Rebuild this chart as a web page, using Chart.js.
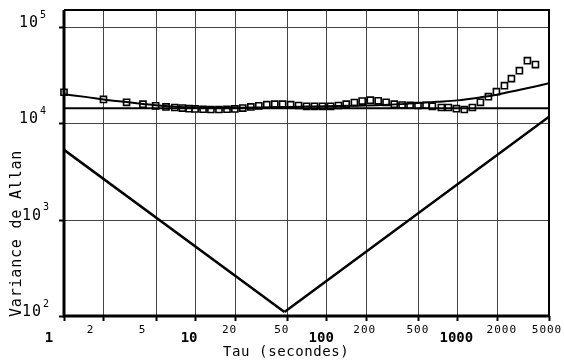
<!DOCTYPE html>
<html>
<head>
<meta charset="utf-8">
<script src="https://cdn.jsdelivr.net/npm/chart.js@4.4.1/dist/chart.umd.min.js"></script>
<style>
  html, body { margin: 0; padding: 0; background: #fff; }
  #wrap { width: 564px; height: 360px; }
</style>
</head>
<body>
<div id="wrap"><canvas id="allan" width="564" height="360"></canvas></div>
<script>
// measured points (open squares)
const tauPts = [1, 2, 3, 4, 5, 6, 7, 8, 9, 10, 11.5, 13.2, 15.2, 17.5, 20.1, 23.1, 26.6, 30.6, 35.2, 40.5,
    46.5, 53.5, 61.5, 70.8, 81.4, 93.6, 108, 124, 142, 164, 188, 217, 249, 286, 330, 379, 436, 501, 577, 645,
    755, 854, 983, 1130, 1302, 1499, 1725, 1986, 2286, 2584, 2973, 3423, 3940];
const varPts = [21000, 17700, 16500, 15800, 15200, 14800, 14600, 14400, 14200, 14100, 14000, 13900, 13900, 14000, 14100, 14400, 14800, 15200, 15600, 15800,
    15800, 15600, 15300, 15000, 15000, 15000, 15000, 15300, 15800, 16400, 17000, 17400, 17100, 16500, 15800, 15500, 15400, 15300, 15400, 15000,
    14600, 14600, 14200, 13900, 14600, 16500, 18900, 21300, 24600, 29100, 35200, 44700, 40700];

// fitted curve
const tauFit = [1, 1.5, 2, 3, 4, 5, 7, 10, 15, 20, 30, 50, 70, 100, 150, 200, 300, 500, 700, 1000, 1500, 2000, 3000, 4000, 5000];
const varFit = [20000, 18700, 17700, 16600, 15900, 15400, 14900, 14600, 14500, 14500, 14600, 14800, 14900, 15000, 15200, 15300, 15600, 16200, 16700, 17300, 18600, 19800, 22300, 24300, 26000];

// straight lines: flat floor, white noise (-1), random walk (+1)
const flatTau = [1, 5000];
const flatVar = [14300, 14300];
const whiteTau = [1, 48];
const whiteVar = [5300, 110];
const walkTau = [48, 5000];
const walkVar = [110, 11700];

// axis ticks
const gridX = [1, 2, 5, 10, 20, 50, 100, 200, 500, 1000, 2000, 5000];
const gridXLabels = ['1', '2', '5', '10', '20', '50', '100', '200', '500', '1000', '2000', '5000'];
const gridY = [100, 1000, 10000, 100000];
const gridYExp = ['2', '3', '4', '5'];

// label layout (style only)
const xLabelDx = [-15, -13, -13, -6, -5, -5, -5, -1, 0, -1, 5, -2];
const bigLabel = ['1', '10', '100', '1000'];

const pts = (xs, ys) => xs.map((x, i) => ({ x: x, y: ys[i] }));
const mono = '"DejaVu Sans Mono", monospace';

const framePlugin = {
    id: 'frame',
    beforeDatasetsDraw(chart) {
        const ctx = chart.ctx;
        const a = chart.chartArea;
        const sx = chart.scales.x, sy = chart.scales.y;
        ctx.save();
        ctx.strokeStyle = '#444';
        ctx.lineWidth = 1;
        for (let i = 0; i < gridX.length; i++) {
            const px = Math.round(sx.getPixelForValue(gridX[i])) + 0.5;
            ctx.beginPath();
            ctx.moveTo(px, a.top);
            ctx.lineTo(px, a.bottom + 5);
            ctx.stroke();
        }
        for (let i = 0; i < gridY.length; i++) {
            const py = Math.round(sy.getPixelForValue(gridY[i])) + 0.5;
            ctx.beginPath();
            ctx.moveTo(a.left - 5, py);
            ctx.lineTo(a.right, py);
            ctx.stroke();
        }
        ctx.restore();
    },
    afterDraw(chart) {
        const ctx = chart.ctx;
        const a = chart.chartArea;
        const sx = chart.scales.x, sy = chart.scales.y;
        ctx.save();
        // frame
        ctx.strokeStyle = '#000';
        ctx.lineWidth = 2;
        ctx.beginPath(); ctx.moveTo(a.left, a.top); ctx.lineTo(a.right, a.top); ctx.lineTo(a.right, a.bottom); ctx.stroke();
        ctx.lineWidth = 3;
        ctx.beginPath(); ctx.moveTo(a.left, a.top); ctx.lineTo(a.left, a.bottom); ctx.lineTo(a.right, a.bottom); ctx.stroke();
        // tick marks
        ctx.lineWidth = 2;
        for (let i = 0; i < gridX.length; i++) {
            const px = Math.round(sx.getPixelForValue(gridX[i])) + 0.5;
            ctx.beginPath(); ctx.moveTo(px, a.bottom); ctx.lineTo(px, a.bottom + 5); ctx.stroke();
        }
        for (let i = 0; i < gridY.length; i++) {
            const py = Math.round(sy.getPixelForValue(gridY[i])) + 0.5;
            ctx.beginPath(); ctx.moveTo(a.left - 5, py); ctx.lineTo(a.left, py); ctx.stroke();
        }
        // x tick labels
        ctx.fillStyle = '#000';
        ctx.textAlign = 'center';
        ctx.textBaseline = 'middle';
        gridXLabels.forEach((lab, i) => {
            const px = sx.getPixelForValue(gridX[i]) + xLabelDx[i];
            if (bigLabel.includes(lab)) {
                ctx.font = 'bold 14px ' + mono;
                ctx.letterSpacing = '0px';
                ctx.fillText(lab, px, 338);
            } else {
                ctx.font = '11px ' + mono;
                ctx.letterSpacing = '1px';
                ctx.fillText(lab, px, 330);
            }
        });
        // y tick labels 10^n
        gridY.forEach((t, i) => {
            const py = sy.getPixelForValue(t);
            const dx = i < 2 ? 3 : 0;
            ctx.textAlign = 'right';
            ctx.font = '15px ' + mono;
            ctx.letterSpacing = '1px';
            ctx.fillText('10', 39 + dx, py - 4);
            ctx.textAlign = 'left';
            ctx.font = '10px ' + mono;
            ctx.letterSpacing = '0px';
            ctx.fillText(gridYExp[i], 40 + dx, py - 12);
        });
        // axis titles
        ctx.textAlign = 'left';
        ctx.font = '14px ' + mono;
        ctx.letterSpacing = '0.6px';
        ctx.fillText('Tau (secondes)', 223, 352);
        ctx.translate(17, 317);
        ctx.rotate(-Math.PI / 2);
        ctx.font = '15px ' + mono;
        ctx.letterSpacing = '0.8px';
        ctx.fillText('Variance de Allan', 0, 0);
        ctx.restore();
    }
};

const lineStyle = {
    showLine: true,
    borderColor: '#000',
    pointRadius: 0,
    fill: false
};

new Chart(document.getElementById('allan'), {
    type: 'scatter',
    data: {
        datasets: [
            Object.assign({ data: pts(flatTau, flatVar), borderWidth: 2 }, lineStyle),
            Object.assign({ data: pts(whiteTau, whiteVar), borderWidth: 2.5 }, lineStyle),
            Object.assign({ data: pts(walkTau, walkVar), borderWidth: 2.5 }, lineStyle),
            Object.assign({ data: pts(tauFit, varFit), borderWidth: 2, cubicInterpolationMode: 'monotone' }, lineStyle),
            {
                data: pts(tauPts, varPts),
                showLine: false,
                pointStyle: 'rect',
                pointRadius: 4.3,
                pointBorderWidth: 1.6,
                pointBorderColor: '#000',
                pointBackgroundColor: '#fff',
                clip: false
            }
        ]
    },
    options: {
        responsive: false,
        animation: false,
        devicePixelRatio: 1,
        layout: { padding: { left: 64, right: 15, top: 10, bottom: 44 } },
        plugins: { legend: { display: false }, tooltip: { enabled: false } },
        scales: {
            x: { type: 'logarithmic', min: 1, max: 5000, display: false },
            y: { type: 'logarithmic', min: 100, max: 150000, display: false }
        }
    },
    plugins: [framePlugin]
});
</script>
</body>
</html>
